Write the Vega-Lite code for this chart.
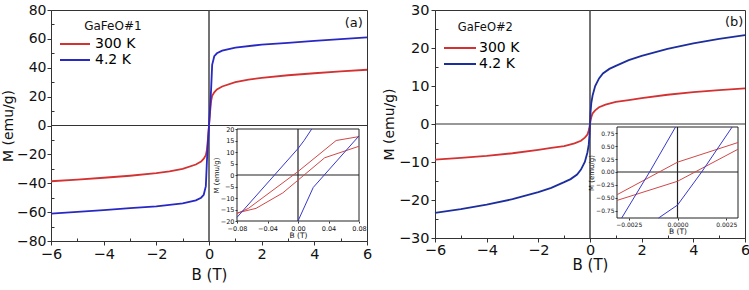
{
 "$schema": "https://vega.github.io/schema/vega-lite/v6.json",
 "padding": {"left": 0, "top": 1, "right": 3, "bottom": 3},
 "config": {
  "font": "DejaVu Sans",
  "view": {"stroke": "#333", "strokeWidth": 1},
  "axis": {"grid": false, "domainColor": "#333", "tickColor": "#333", "labelColor": "#111", "titleColor": "#111", "titleFontWeight": "normal", "labelFlush": false, "labelOverlap": false}
 },
 "datasets": {
  "mainA": [
   {"T": "300 K", "B": -6, "M": -38.6}, {"T": "300 K", "B": -5, "M": -37.5}, {"T": "300 K", "B": -4, "M": -36.2}, {"T": "300 K", "B": -3, "M": -34.8}, {"T": "300 K", "B": -2, "M": -33}, {"T": "300 K", "B": -1.5, "M": -31.8}, {"T": "300 K", "B": -1, "M": -30}, {"T": "300 K", "B": -0.5, "M": -27}, {"T": "300 K", "B": -0.3, "M": -25}, {"T": "300 K", "B": -0.2, "M": -23}, {"T": "300 K", "B": -0.12, "M": -20.5}, {"T": "300 K", "B": -0.08, "M": -17}, {"T": "300 K", "B": -0.04, "M": -9}, {"T": "300 K", "B": 0, "M": 0}, {"T": "300 K", "B": 0.04, "M": 9}, {"T": "300 K", "B": 0.08, "M": 17}, {"T": "300 K", "B": 0.12, "M": 20.5}, {"T": "300 K", "B": 0.2, "M": 23}, {"T": "300 K", "B": 0.3, "M": 25}, {"T": "300 K", "B": 0.5, "M": 27}, {"T": "300 K", "B": 1, "M": 30}, {"T": "300 K", "B": 1.5, "M": 31.8}, {"T": "300 K", "B": 2, "M": 33}, {"T": "300 K", "B": 3, "M": 34.8}, {"T": "300 K", "B": 4, "M": 36.2}, {"T": "300 K", "B": 5, "M": 37.5}, {"T": "300 K", "B": 6, "M": 38.6},
   {"T": "4.2 K", "B": -6, "M": -61}, {"T": "4.2 K", "B": -5, "M": -59.8}, {"T": "4.2 K", "B": -4, "M": -58.6}, {"T": "4.2 K", "B": -3, "M": -57.3}, {"T": "4.2 K", "B": -2, "M": -56}, {"T": "4.2 K", "B": -1, "M": -54}, {"T": "4.2 K", "B": -0.5, "M": -51.8}, {"T": "4.2 K", "B": -0.3, "M": -50}, {"T": "4.2 K", "B": -0.2, "M": -48}, {"T": "4.2 K", "B": -0.12, "M": -42}, {"T": "4.2 K", "B": -0.08, "M": -25}, {"T": "4.2 K", "B": -0.04, "M": -12}, {"T": "4.2 K", "B": 0, "M": 0}, {"T": "4.2 K", "B": 0.04, "M": 12}, {"T": "4.2 K", "B": 0.08, "M": 25}, {"T": "4.2 K", "B": 0.12, "M": 42}, {"T": "4.2 K", "B": 0.2, "M": 48}, {"T": "4.2 K", "B": 0.3, "M": 50}, {"T": "4.2 K", "B": 0.5, "M": 51.8}, {"T": "4.2 K", "B": 1, "M": 54}, {"T": "4.2 K", "B": 2, "M": 56}, {"T": "4.2 K", "B": 3, "M": 57.3}, {"T": "4.2 K", "B": 4, "M": 58.6}, {"T": "4.2 K", "B": 5, "M": 59.8}, {"T": "4.2 K", "B": 6, "M": 61}
  ],
  "mainB": [
   {"T": "300 K", "B": -6, "M": -9.4}, {"T": "300 K", "B": -5, "M": -8.9}, {"T": "300 K", "B": -4, "M": -8.4}, {"T": "300 K", "B": -3, "M": -7.7}, {"T": "300 K", "B": -2, "M": -6.8}, {"T": "300 K", "B": -1.5, "M": -6.3}, {"T": "300 K", "B": -1, "M": -5.8}, {"T": "300 K", "B": -0.6, "M": -5.1}, {"T": "300 K", "B": -0.35, "M": -4.4}, {"T": "300 K", "B": -0.2, "M": -3.6}, {"T": "300 K", "B": -0.1, "M": -2.8}, {"T": "300 K", "B": -0.06, "M": -2}, {"T": "300 K", "B": -0.03, "M": -1.2}, {"T": "300 K", "B": 0, "M": 0}, {"T": "300 K", "B": 0.03, "M": 1.2}, {"T": "300 K", "B": 0.06, "M": 2}, {"T": "300 K", "B": 0.1, "M": 2.8}, {"T": "300 K", "B": 0.2, "M": 3.6}, {"T": "300 K", "B": 0.35, "M": 4.4}, {"T": "300 K", "B": 0.6, "M": 5.1}, {"T": "300 K", "B": 1, "M": 5.8}, {"T": "300 K", "B": 1.5, "M": 6.3}, {"T": "300 K", "B": 2, "M": 6.8}, {"T": "300 K", "B": 3, "M": 7.7}, {"T": "300 K", "B": 4, "M": 8.4}, {"T": "300 K", "B": 5, "M": 8.9}, {"T": "300 K", "B": 6, "M": 9.4},
   {"T": "4.2 K", "B": -6, "M": -23.4}, {"T": "4.2 K", "B": -5, "M": -22.4}, {"T": "4.2 K", "B": -4, "M": -21.2}, {"T": "4.2 K", "B": -3, "M": -19.8}, {"T": "4.2 K", "B": -2, "M": -17.9}, {"T": "4.2 K", "B": -1.5, "M": -16.8}, {"T": "4.2 K", "B": -1, "M": -15.3}, {"T": "4.2 K", "B": -0.75, "M": -14.5}, {"T": "4.2 K", "B": -0.5, "M": -13.3}, {"T": "4.2 K", "B": -0.35, "M": -12}, {"T": "4.2 K", "B": -0.2, "M": -10}, {"T": "4.2 K", "B": -0.1, "M": -7.5}, {"T": "4.2 K", "B": -0.05, "M": -5.5}, {"T": "4.2 K", "B": -0.02, "M": -3}, {"T": "4.2 K", "B": 0, "M": 0}, {"T": "4.2 K", "B": 0.02, "M": 3}, {"T": "4.2 K", "B": 0.05, "M": 5.5}, {"T": "4.2 K", "B": 0.1, "M": 7.5}, {"T": "4.2 K", "B": 0.2, "M": 10}, {"T": "4.2 K", "B": 0.35, "M": 12}, {"T": "4.2 K", "B": 0.5, "M": 13.3}, {"T": "4.2 K", "B": 0.75, "M": 14.5}, {"T": "4.2 K", "B": 1, "M": 15.3}, {"T": "4.2 K", "B": 1.5, "M": 16.8}, {"T": "4.2 K", "B": 2, "M": 17.9}, {"T": "4.2 K", "B": 3, "M": 19.8}, {"T": "4.2 K", "B": 4, "M": 21.2}, {"T": "4.2 K", "B": 5, "M": 22.4}, {"T": "4.2 K", "B": 6, "M": 23.4}
  ],
  "insetA": [
   {"T": "300 K", "br": "r1", "B": -0.08, "M": -16.8}, {"T": "300 K", "br": "r1", "B": -0.065, "M": -14.5}, {"T": "300 K", "br": "r1", "B": 0, "M": 1.5}, {"T": "300 K", "br": "r1", "B": 0.05, "M": 15}, {"T": "300 K", "br": "r1", "B": 0.08, "M": 16.7},
   {"T": "300 K", "br": "r2", "B": -0.08, "M": -16.5}, {"T": "300 K", "br": "r2", "B": -0.055, "M": -14.5}, {"T": "300 K", "br": "r2", "B": -0.02, "M": -7.8}, {"T": "300 K", "br": "r2", "B": 0.035, "M": 7.5}, {"T": "300 K", "br": "r2", "B": 0.08, "M": 12.5},
   {"T": "4.2 K", "br": "b1", "B": -0.08, "M": -18.4}, {"T": "4.2 K", "br": "b1", "B": 0, "M": 11.5}, {"T": "4.2 K", "br": "b1", "B": 0.008, "M": 15}, {"T": "4.2 K", "br": "b1", "B": 0.018, "M": 20},
   {"T": "4.2 K", "br": "b2", "B": 0, "M": -20}, {"T": "4.2 K", "br": "b2", "B": 0.02, "M": -5.4}, {"T": "4.2 K", "br": "b2", "B": 0.08, "M": 17}
  ],
  "insetB": [
   {"T": "300 K", "br": "r1", "B": -0.0031, "M": -0.44}, {"T": "300 K", "br": "r1", "B": 0, "M": 0.19}, {"T": "300 K", "br": "r1", "B": 0.0031, "M": 0.57},
   {"T": "300 K", "br": "r2", "B": -0.0031, "M": -0.55}, {"T": "300 K", "br": "r2", "B": 0, "M": -0.18}, {"T": "300 K", "br": "r2", "B": 0.0031, "M": 0.44},
   {"T": "4.2 K", "br": "b1", "B": -0.00286, "M": -0.89}, {"T": "4.2 K", "br": "b1", "B": -0.00143, "M": 0}, {"T": "4.2 K", "br": "b1", "B": -0.0001, "M": 0.87},
   {"T": "4.2 K", "br": "b2", "B": -0.00097, "M": -0.89}, {"T": "4.2 K", "br": "b2", "B": 0, "M": -0.64}, {"T": "4.2 K", "br": "b2", "B": 0.00124, "M": 0}, {"T": "4.2 K", "br": "b2", "B": 0.0028, "M": 0.87}
  ]
 },
 "spacing": 8,
 "resolve": {"scale": {"x": "independent", "y": "independent", "color": "independent"}},
 "hconcat": [
  {
   "width": 316, "height": 231,
   "layer": [
    {
     "layer": [
      {"data": {"values": [{}]}, "mark": {"type": "rule", "color": "#444", "strokeWidth": 1.5},
       "encoding": {"x": {"datum": 0, "type": "quantitative", "axis": {"orient": "bottom", "values": [-5, -3, -1, 1, 3, 5], "tickSize": -3, "labels": false, "domain": false, "title": null}}}},
      {"data": {"values": [{}]}, "mark": {"type": "rule", "color": "#333", "strokeWidth": 1.2},
       "encoding": {"y": {"datum": 0, "type": "quantitative", "axis": {"orient": "left", "values": [-70, -50, -30, -10, 10, 30, 50, 70], "tickSize": -3, "labels": false, "domain": false, "title": null}}}},
      {"data": {"name": "mainA"}, "mark": {"type": "line", "strokeWidth": 1.8},
       "encoding": {
        "x": {"field": "B", "type": "quantitative", "scale": {"domain": [-6, 6], "nice": false, "zero": false},
              "axis": {"orient": "bottom", "values": [-6, -4, -2, 0, 2, 4, 6], "tickSize": 4, "labelPadding": 2, "labelFontSize": 14.5, "title": "B (T)", "titleFontSize": 15, "titlePadding": 7}},
        "y": {"field": "M", "type": "quantitative", "scale": {"domain": [-80, 80], "nice": false},
              "axis": {"orient": "left", "values": [-80, -60, -40, -20, 0, 20, 40, 60, 80], "tickSize": 4, "labelPadding": 1, "labelFontSize": 14, "title": "M (emu/g)", "titleFontSize": 14, "titlePadding": 1}},
        "color": {"field": "T", "type": "nominal", "scale": {"domain": ["300 K", "4.2 K"], "range": ["#d43232", "#2828c4"]},
                  "legend": {"title": null, "orient": "none", "legendX": 17, "legendY": 27, "symbolType": "M-3,0H3", "symbolSize": 100, "symbolStrokeWidth": 2, "labelFontSize": 14, "labelOffset": 13, "rowPadding": 2, "padding": 0}}
       }},
      {"data": {"values": [{}]}, "mark": {"type": "text", "fontSize": 13, "align": "center", "baseline": "middle", "color": "#111"},
       "encoding": {"x": {"datum": 5.5, "type": "quantitative", "axis": null}, "y": {"datum": 71, "type": "quantitative", "axis": null}, "text": {"value": "(a)"}}},
      {"data": {"values": [{}]}, "mark": {"type": "text", "fontSize": 12, "align": "center", "baseline": "middle", "color": "#111"},
       "encoding": {"x": {"datum": -3.65, "type": "quantitative", "axis": null}, "y": {"datum": 69, "type": "quantitative", "axis": null}, "text": {"value": "GaFeO#1"}}}
     ],
     "resolve": {"axis": {"x": "independent", "y": "independent"}}
    },
    {
     "layer": [
      {"data": {"values": [{}]}, "mark": {"type": "rect", "fill": "white", "stroke": "#222", "strokeWidth": 1},
       "encoding": {
        "x": {"datum": -0.08, "type": "quantitative", "scale": {"domain": [-0.08, 0.08], "range": [186, 308], "nice": false, "zero": false}, "axis": null},
        "x2": {"datum": 0.08},
        "y": {"datum": -20, "type": "quantitative", "scale": {"domain": [-20, 20], "range": [211, 119], "nice": false, "zero": false}, "axis": null},
        "y2": {"datum": 20}
       }},
      {"data": {"values": [{}]}, "mark": {"type": "rule", "color": "#222", "strokeWidth": 1.2},
       "encoding": {"x": {"datum": 0, "type": "quantitative", "axis": null}, "y": {"datum": -20, "type": "quantitative", "axis": null}, "y2": {"datum": 20}}},
      {"data": {"values": [{}]}, "mark": {"type": "rule", "color": "#222", "strokeWidth": 1.2},
       "encoding": {"y": {"datum": 0, "type": "quantitative", "axis": null}, "x": {"datum": -0.08, "type": "quantitative", "axis": null}, "x2": {"datum": 0.08}}},
      {"data": {"name": "insetA"}, "mark": {"type": "line", "strokeWidth": 1},
       "encoding": {
        "x": {"field": "B", "type": "quantitative",
              "axis": {"orient": "bottom", "offset": -20, "zindex": 2, "values": [-0.08, -0.04, 0, 0.04, 0.08], "format": ".2f", "labelFontSize": 6.5, "tickSize": 2, "labelPadding": 2, "domain": false, "title": "B (T)", "titleFontSize": 7.5, "titlePadding": 0}},
        "y": {"field": "M", "type": "quantitative",
              "axis": {"orient": "left", "offset": -186, "zindex": 2, "values": [-20, -15, -10, -5, 0, 5, 10, 15, 20], "labelFontSize": 6.5, "tickSize": 2, "labelPadding": 1, "domain": false, "title": "M (emu/g)", "titleFontSize": 7, "titlePadding": 1}},
        "color": {"field": "T", "type": "nominal", "scale": {"domain": ["300 K", "4.2 K"], "range": ["#d04848", "#3838cc"]}, "legend": null},
        "detail": {"field": "br"}
       }}
     ],
     "resolve": {"axis": {"x": "independent", "y": "independent"}}
    }
   ],
   "resolve": {"scale": {"x": "independent", "y": "independent", "color": "independent"}}
  },
  {
   "width": 310, "height": 228,
   "layer": [
    {
     "layer": [
      {"data": {"values": [{}]}, "mark": {"type": "rule", "color": "#444", "strokeWidth": 1.5},
       "encoding": {"x": {"datum": 0, "type": "quantitative", "axis": {"orient": "bottom", "values": [-5, -3, -1, 1, 3, 5], "tickSize": -3, "labels": false, "domain": false, "title": null}}}},
      {"data": {"values": [{}]}, "mark": {"type": "rule", "color": "#333", "strokeWidth": 1.2},
       "encoding": {"y": {"datum": 0, "type": "quantitative", "axis": {"orient": "left", "values": [-25, -15, -5, 5, 15, 25], "tickSize": -3, "labels": false, "domain": false, "title": null}}}},
      {"data": {"name": "mainB"}, "mark": {"type": "line", "strokeWidth": 1.8},
       "encoding": {
        "x": {"field": "B", "type": "quantitative", "scale": {"domain": [-6, 6], "nice": false, "zero": false},
              "axis": {"orient": "bottom", "values": [-6, -4, -2, 0, 2, 4, 6], "tickSize": 4, "labelPadding": 1, "labelFontSize": 14.5, "title": "B (T)", "titleFontSize": 15, "titlePadding": 1}},
        "y": {"field": "M", "type": "quantitative", "scale": {"domain": [-30, 30], "nice": false},
              "axis": {"orient": "left", "values": [-30, -20, -10, 0, 10, 20, 30], "tickSize": 4, "labelPadding": 2, "labelFontSize": 14.5, "title": "M (emu/g)", "titleFontSize": 14, "titlePadding": 2}},
        "color": {"field": "T", "type": "nominal", "scale": {"domain": ["300 K", "4.2 K"], "range": ["#d43232", "#1c2e9e"]},
                  "legend": {"title": null, "orient": "none", "legendX": 18, "legendY": 31, "symbolType": "M-3.2,0H3.2", "symbolSize": 100, "symbolStrokeWidth": 2, "labelFontSize": 14, "labelOffset": 12, "rowPadding": 2, "padding": 0}}
       }},
      {"data": {"values": [{}]}, "mark": {"type": "text", "fontSize": 13, "align": "center", "baseline": "middle", "color": "#111"},
       "encoding": {"x": {"datum": 5.58, "type": "quantitative", "axis": null}, "y": {"datum": 26.9, "type": "quantitative", "axis": null}, "text": {"value": "(b)"}}},
      {"data": {"values": [{}]}, "mark": {"type": "text", "fontSize": 11.5, "align": "center", "baseline": "middle", "color": "#111"},
       "encoding": {"x": {"datum": -4.05, "type": "quantitative", "axis": null}, "y": {"datum": 25.2, "type": "quantitative", "axis": null}, "text": {"value": "GaFeO#2"}}}
     ],
     "resolve": {"axis": {"x": "independent", "y": "independent"}}
    },
    {
     "layer": [
      {"data": {"values": [{}]}, "mark": {"type": "rect", "fill": "white", "stroke": "#222", "strokeWidth": 1},
       "encoding": {
        "x": {"datum": -0.0031, "type": "quantitative", "scale": {"domain": [-0.0031, 0.0031], "range": [182, 303], "nice": false, "zero": false}, "axis": null},
        "x2": {"datum": 0.0031},
        "y": {"datum": -0.89, "type": "quantitative", "scale": {"domain": [-0.89, 0.87], "range": [208, 117], "nice": false, "zero": false}, "axis": null},
        "y2": {"datum": 0.87}
       }},
      {"data": {"values": [{}]}, "mark": {"type": "rule", "color": "#222", "strokeWidth": 1.2},
       "encoding": {"x": {"datum": 0, "type": "quantitative", "axis": null}, "y": {"datum": -0.89, "type": "quantitative", "axis": null}, "y2": {"datum": 0.87}}},
      {"data": {"values": [{}]}, "mark": {"type": "rule", "color": "#222", "strokeWidth": 1.2},
       "encoding": {"y": {"datum": 0, "type": "quantitative", "axis": null}, "x": {"datum": -0.0031, "type": "quantitative", "axis": null}, "x2": {"datum": 0.0031}}},
      {"data": {"name": "insetB"}, "mark": {"type": "line", "strokeWidth": 1},
       "encoding": {
        "x": {"field": "B", "type": "quantitative",
              "axis": {"orient": "bottom", "offset": -20, "zindex": 2, "values": [-0.0025, 0, 0.0025], "format": ".4f", "labelFontSize": 6, "tickSize": 2, "labelPadding": 1, "domain": false, "title": "B (T)", "titleFontSize": 7.5, "titlePadding": 0}},
        "y": {"field": "M", "type": "quantitative",
              "axis": {"orient": "left", "offset": -182, "zindex": 2, "values": [-0.75, -0.5, -0.25, 0, 0.25, 0.5, 0.75], "format": ".2f", "labelFontSize": 6, "tickSize": 2, "labelPadding": 1, "domain": false, "title": "M (emu/g)", "titleFontSize": 7, "titlePadding": 1}},
        "color": {"field": "T", "type": "nominal", "scale": {"domain": ["300 K", "4.2 K"], "range": ["#d04848", "#3838cc"]}, "legend": null},
        "detail": {"field": "br"}
       }}
     ],
     "resolve": {"axis": {"x": "independent", "y": "independent"}}
    }
   ],
   "resolve": {"scale": {"x": "independent", "y": "independent", "color": "independent"}}
  }
 ]
}
